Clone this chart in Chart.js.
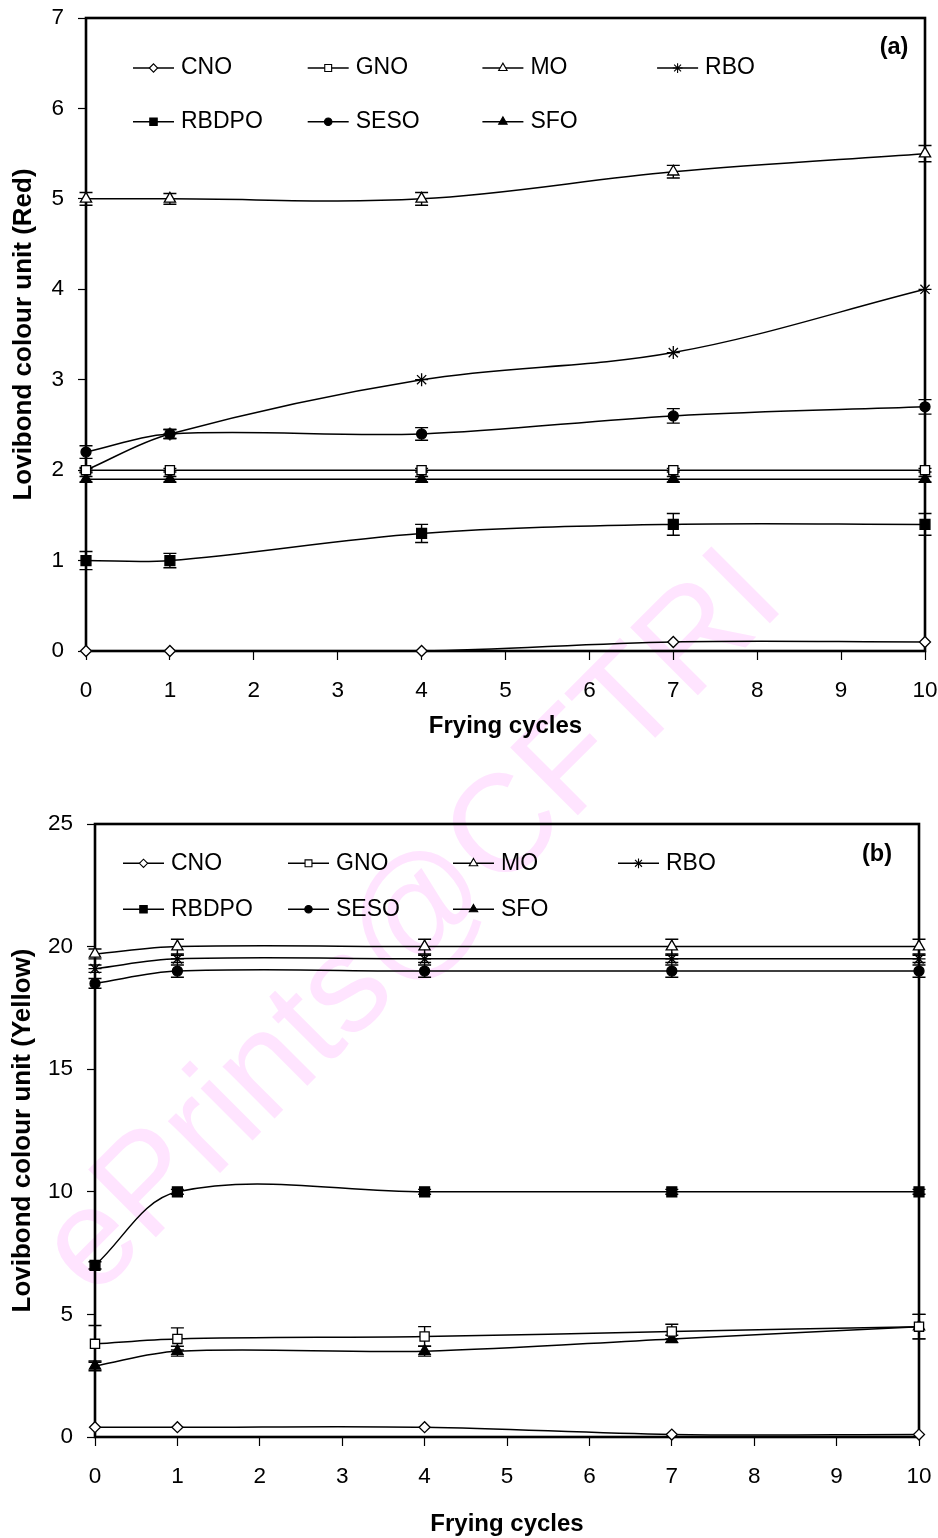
<!DOCTYPE html>
<html>
<head>
<meta charset="utf-8">
<title>Lovibond colour during frying</title>
<script src="https://cdn.jsdelivr.net/npm/chart.js@4.4.0/dist/chart.umd.min.js"></script>
<style>
  html, body { margin: 0; padding: 0; background: #fff; overflow: hidden; }
  #page { position: relative; width: 938px; height: 1538px; overflow: hidden; }
  #watermark {
    position: absolute; left: 93px; top: 1182px;
    font: 139px "Liberation Sans", Arial, sans-serif; line-height: 1;
    color: #ffe4ff; white-space: nowrap;
    transform: rotate(-45deg); transform-origin: 0 118px;
  }
  canvas { position: absolute; left: 0; }
  #chart-red { top: 0; }
  #chart-yellow { top: 770px; }
</style>
</head>
<body>
<div id="page">
  <div id="watermark">ePrints@CFTRI</div>
  <canvas id="chart-red" width="938" height="770"></canvas>
  <canvas id="chart-yellow" width="938" height="772"></canvas>
</div>
<script>
// frying cycles sampled
const cycles = [0, 1, 4, 7, 10];
const oils = ['CNO', 'GNO', 'MO', 'RBO', 'RBDPO', 'SESO', 'SFO'];

// (a) red units
const redCNO   = [0, 0, 0, 0.1, 0.1];
const redGNO   = [2, 2, 2, 2, 2];
const redMO    = [5, 5, 5, 5.3, 5.5];
const redRBO   = [2, 2.4, 3, 3.3, 4];
const redRBDPO = [1, 1, 1.3, 1.4, 1.4];
const redSESO  = [2.2, 2.4, 2.4, 2.6, 2.7];
const redSFO   = [1.9, 1.9, 1.9, 1.9, 1.9];

// (a) standard deviations
const redErrCNO   = [0, 0, 0, 0, 0];
const redErrGNO   = [0.02, 0.02, 0.02, 0.02, 0.02];
const redErrMO    = [0.07, 0.06, 0.07, 0.07, 0.09];
const redErrRBO   = [0.03, 0.05, 0, 0, 0];
const redErrRBDPO = [0.1, 0.08, 0.1, 0.12, 0.12];
const redErrSESO  = [0.07, 0.05, 0.07, 0.08, 0.08];
const redErrSFO   = [0.03, 0.03, 0.03, 0.03, 0.03];

// (b) yellow units
const yelCNO   = [0.4, 0.4, 0.4, 0.1, 0.1];
const yelGNO   = [3.8, 4, 4.1, 4.3, 4.5];
const yelMO    = [19.7, 20, 20, 20, 20];
const yelRBO   = [19.1, 19.5, 19.5, 19.5, 19.5];
const yelRBDPO = [7, 10, 10, 10, 10];
const yelSESO  = [18.5, 19, 19, 19, 19];
const yelSFO   = [2.9, 3.5, 3.5, 4, 4.5];

// (b) standard deviations
const yelErrCNO   = [0, 0, 0, 0, 0];
const yelErrGNO   = [0.75, 0.45, 0.4, 0.3, 0.5];
const yelErrMO    = [0.2, 0.3, 0.3, 0.3, 0.3];
const yelErrRBO   = [0.15, 0.15, 0.15, 0.15, 0.15];
const yelErrRBDPO = [0.15, 0.1, 0.1, 0.1, 0.1];
const yelErrSESO  = [0.2, 0.25, 0.25, 0.25, 0.25];
const yelErrSFO   = [0.2, 0.2, 0.2, 0.15, 0.5];

const redTicks = [0, 1, 2, 3, 4, 5, 6, 7];
const yelTicks = [0, 5, 10, 15, 20, 25];

// marker per oil, same order as oils
const markers = [
  { style: 'rectRot',  fill: '#fff', r: 5.5 },
  { style: 'rect',     fill: '#fff', r: 6.5 },
  { style: 'triangle', fill: '#fff', r: 6.5 },
  { style: 'star',     fill: '#000', r: 6.5 },
  { style: 'rect',     fill: '#000', r: 7 },
  { style: 'circle',   fill: '#000', r: 5 },
  { style: 'triangle', fill: '#000', r: 6.5 }
];

const FONT = "'Liberation Sans', Arial, sans-serif";
Chart.defaults.font.family = FONT;
Chart.defaults.color = '#000';

// box around the plot area, drawn under the series
const frameBox = {
  id: 'frameBox',
  beforeDatasetsDraw(chart) {
    const { ctx, chartArea: a } = chart;
    ctx.save();
    ctx.strokeStyle = '#000';
    ctx.lineWidth = 2.6;
    ctx.strokeRect(a.left, a.top, a.right - a.left, a.bottom - a.top);
    ctx.restore();
  }
};

// vertical error bars with caps
const errorBars = {
  id: 'errorBars',
  beforeDatasetsDraw(chart) {
    const { ctx, scales: { x, y } } = chart;
    ctx.save();
    ctx.strokeStyle = '#000';
    ctx.lineWidth = 1.4;
    chart.data.datasets.forEach(ds => {
      ds.errors.forEach((e, i) => {
        if (!e) return;
        const p = ds.data[i];
        const px = x.getPixelForValue(p.x);
        const top = y.getPixelForValue(p.y + e);
        const bot = y.getPixelForValue(p.y - e);
        ctx.beginPath();
        ctx.moveTo(px, top); ctx.lineTo(px, bot);
        ctx.moveTo(px - 6.5, top); ctx.lineTo(px + 6.5, top);
        ctx.moveTo(px - 6.5, bot); ctx.lineTo(px + 6.5, bot);
        ctx.stroke();
      });
    });
    ctx.restore();
  }
};

// legend inside the plot (4 columns) plus the panel tag
const panelLegend = {
  id: 'panelLegend',
  afterDraw(chart, args, opts) {
    const { ctx, chartArea: a } = chart;
    ctx.save();
    chart.data.datasets.forEach((ds, i) => {
      const col = i % 4, row = Math.floor(i / 4);
      const x0 = a.left + opts.offsetX + col * opts.colWidth;
      const yc = a.top + opts.rows[row];
      ctx.strokeStyle = '#000';
      ctx.lineWidth = 1.4;
      ctx.beginPath();
      ctx.moveTo(x0, yc);
      ctx.lineTo(x0 + 41, yc);
      ctx.stroke();
      ctx.fillStyle = ds.pointBackgroundColor;
      ctx.lineWidth = 1.1;
      Chart.helpers.drawPoint(ctx, {
        pointStyle: ds.pointStyle,
        radius: ds.pointRadius * 0.75,
        rotation: 0,
        borderWidth: 1.1
      }, x0 + 20.5, yc);
      ctx.fillStyle = '#000';
      ctx.font = '23px ' + FONT;
      ctx.textAlign = 'left';
      ctx.textBaseline = 'middle';
      ctx.fillText(ds.label, x0 + 48, yc);
    });
    ctx.font = 'bold 23.5px ' + FONT;
    ctx.textAlign = 'center';
    ctx.textBaseline = 'middle';
    ctx.fillText(opts.tag, opts.tagX, opts.tagY);
    ctx.restore();
  }
};

// keep the plot area where the layout puts it, without label overhang
function clearPadding(s) {
  s.paddingTop = 0;
  s.paddingBottom = 0;
  s.paddingLeft = 0;
  s.paddingRight = 0;
}

function buildChart(canvasId, cfg) {
  const datasets = oils.map((name, i) => ({
    label: name,
    data: cycles.map((c, j) => ({ x: c, y: cfg.values[i][j] })),
    errors: cfg.errors[i],
    borderColor: '#000',
    borderWidth: 1.5,
    tension: 0.35,
    fill: false,
    clip: false,
    pointStyle: markers[i].style,
    pointRadius: markers[i].r,
    pointBackgroundColor: markers[i].fill,
    pointBorderColor: '#000',
    pointBorderWidth: 1.3
  }));

  const tickValues = cfg.ticks;

  new Chart(document.getElementById(canvasId), {
    type: 'line',
    data: { datasets: datasets },
    plugins: [frameBox, errorBars, panelLegend],
    options: {
      responsive: false,
      animation: false,
      events: [],
      layout: { autoPadding: false, padding: cfg.padding },
      plugins: {
        legend: { display: false },
        tooltip: { enabled: false },
        panelLegend: cfg.legend
      },
      scales: {
        x: {
          type: 'linear',
          min: 0,
          max: 10,
          ticks: { stepSize: 1, padding: 17, font: { size: 22.5 }, color: '#000', maxRotation: 0, autoSkip: false },
          grid: { drawOnChartArea: false, drawTicks: true, tickLength: 9, tickColor: '#000', tickWidth: 1.2 },
          border: { display: false },
          title: { display: true, text: 'Frying cycles', color: '#000', font: { size: 24, weight: 'bold' }, padding: { top: 0, bottom: 2 } },
          afterFit: s => { s.height = cfg.xHeight; clearPadding(s); }
        },
        y: {
          type: 'linear',
          min: tickValues[0],
          max: tickValues[tickValues.length - 1],
          afterBuildTicks: s => { s.ticks = tickValues.map(v => ({ value: v })); },
          ticks: { padding: 14, font: { size: 22.5 }, color: '#000' },
          grid: { drawOnChartArea: false, drawTicks: true, tickLength: 8, tickColor: '#000', tickWidth: 1.2 },
          border: { display: false },
          title: { display: true, text: cfg.yTitle, color: '#000', font: { size: 26, weight: 'bold' }, padding: { top: cfg.yTitlePad, bottom: 0 } },
          afterFit: s => { s.width = cfg.yWidth; clearPadding(s); }
        }
      }
    }
  });
}

buildChart('chart-red', {
  values: [redCNO, redGNO, redMO, redRBO, redRBDPO, redSESO, redSFO],
  errors: [redErrCNO, redErrGNO, redErrMO, redErrRBO, redErrRBDPO, redErrSESO, redErrSFO],
  ticks: redTicks,
  yTitle: 'Lovibond colour unit (Red)',
  yTitlePad: 8.5,
  yWidth: 86,
  xHeight: 92,
  padding: { left: 0, top: 18, right: 13, bottom: 27 },
  legend: { offsetX: 47, colWidth: 174.7, rows: [50, 103.7], tag: '(a)', tagX: 894, tagY: 48 }
});

buildChart('chart-yellow', {
  values: [yelCNO, yelGNO, yelMO, yelRBO, yelRBDPO, yelSESO, yelSFO],
  errors: [yelErrCNO, yelErrGNO, yelErrMO, yelErrRBO, yelErrRBDPO, yelErrSESO, yelErrSFO],
  ticks: yelTicks,
  yTitle: 'Lovibond colour unit (Yellow)',
  yTitlePad: 7,
  yWidth: 95,
  xHeight: 104,
  padding: { left: 0, top: 54, right: 19, bottom: 1 },
  legend: { offsetX: 28, colWidth: 165, rows: [39.3, 85.3], tag: '(b)', tagX: 877, tagY: 85 }
});
</script>
</body>
</html>
